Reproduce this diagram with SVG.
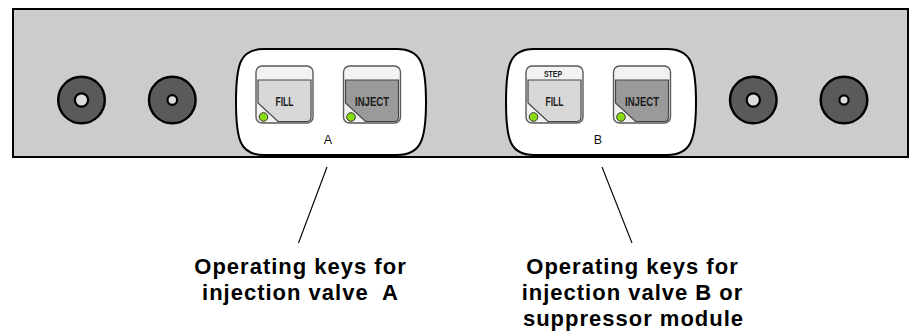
<svg xmlns="http://www.w3.org/2000/svg" xmlns:xlink="http://www.w3.org/1999/xlink" width="912" height="335" viewBox="0 0 912 335">
  <style>
    .panel { fill: #cccccc; stroke: #000; stroke-width: 2; }
    .jack-outer { fill: #5a5a5a; stroke: #000; stroke-width: 2.4; }
    .jack-inner { fill: #dcdcdc; stroke: #000; stroke-width: 2.2; }
    .module { fill: #ffffff; stroke: #000; stroke-width: 2; }
    .key-frame { fill: #f2f2f2; stroke: #5a5a5a; stroke-width: 1.4; }
    .face { stroke: #444; stroke-width: 1.2; }
    .face-light { fill: #d8d8d8; }
    .face-dark { fill: #9a9a9a; }
    .led { fill: #88dd11; stroke: #333; stroke-width: 1; }
    .key-text { font-family: "Liberation Sans", Arial, sans-serif; font-size: 12.5px; font-weight: bold; fill: #1a1a1a; text-anchor: middle; }
    .step-text { font-family: "Liberation Sans", Arial, sans-serif; font-size: 9px; font-weight: bold; fill: #1a1a1a; text-anchor: middle; }
    .module-label { font-family: "Liberation Sans", Arial, sans-serif; font-size: 12.5px; fill: #111; text-anchor: middle; }
    .leader { stroke: #000; stroke-width: 1.1; fill: none; }
    .caption { font-family: "Liberation Sans", Arial, sans-serif; font-size: 22px; font-weight: bold; letter-spacing: 1px; fill: #000; text-anchor: middle; }
  </style>
  <defs>
    <!-- key frame, face outline and status LED shared by all keys -->
    <rect id="keyFrame" class="key-frame" x="0" y="0" width="57" height="57" rx="6"/>
    <path id="keyFace" d="M 2 14 H 55 V 51 Q 55 55.5 50.5 55.5 H 22 L 2 37 Z"/>
    <circle id="keyLed" class="led" cx="7.5" cy="51" r="4.3"/>
    <path id="moduleShape" d="M 264 49 H 397 C 421 49 426 64 426 102 C 426 140 421 155 397 155 H 264 C 240 155 236 140 236 102 C 236 64 240 49 264 49 Z"/>
  </defs>

  <!-- front panel -->
  <g id="panel">
    <rect class="panel" x="13" y="9" width="895" height="148"/>
  </g>

  <!-- jacks -->
  <g id="jack-1">
    <circle class="jack-outer" cx="81.5" cy="100" r="23.3"/>
    <circle class="jack-inner" cx="81.5" cy="100" r="6.6"/>
  </g>
  <g id="jack-2">
    <circle class="jack-outer" cx="172.3" cy="100" r="23.3"/>
    <circle class="jack-inner" cx="172.3" cy="100" r="4.8"/>
  </g>
  <g id="jack-3">
    <circle class="jack-outer" cx="753.3" cy="100" r="23.3"/>
    <circle class="jack-inner" cx="753.3" cy="100" r="6.6"/>
  </g>
  <g id="jack-4">
    <circle class="jack-outer" cx="844" cy="100" r="23.3"/>
    <circle class="jack-inner" cx="844" cy="100" r="4.6"/>
  </g>

  <!-- valve A keys -->
  <g id="module-a">
    <use xlink:href="#moduleShape" class="module"/>
    <g id="key-a-fill" transform="translate(256 66)">
      <use xlink:href="#keyFrame"/>
      <use xlink:href="#keyFace" class="face face-light"/>
      <use xlink:href="#keyLed"/>
      <text class="key-text" x="28.5" y="39.5" textLength="18" lengthAdjust="spacingAndGlyphs">FILL</text>
    </g>
    <g id="key-a-inject" transform="translate(343.5 66)">
      <use xlink:href="#keyFrame"/>
      <use xlink:href="#keyFace" class="face face-dark"/>
      <use xlink:href="#keyLed"/>
      <text class="key-text" x="28.5" y="39.5" textLength="34" lengthAdjust="spacingAndGlyphs">INJECT</text>
    </g>
    <text class="module-label" x="328" y="143.5">A</text>
  </g>

  <!-- valve B / suppressor keys -->
  <g id="module-b" transform="translate(270 0)">
    <use xlink:href="#moduleShape" class="module"/>
    <g id="key-b-fill" transform="translate(256 66)">
      <use xlink:href="#keyFrame"/>
      <use xlink:href="#keyFace" class="face face-light"/>
      <use xlink:href="#keyLed"/>
      <text class="step-text" x="27" y="11" textLength="18" lengthAdjust="spacingAndGlyphs">STEP</text>
      <text class="key-text" x="28.5" y="39.5" textLength="18" lengthAdjust="spacingAndGlyphs">FILL</text>
    </g>
    <g id="key-b-inject" transform="translate(343.5 66)">
      <use xlink:href="#keyFrame"/>
      <use xlink:href="#keyFace" class="face face-dark"/>
      <use xlink:href="#keyLed"/>
      <text class="key-text" x="28.5" y="39.5" textLength="34" lengthAdjust="spacingAndGlyphs">INJECT</text>
    </g>
    <text class="module-label" x="328" y="143.5">B</text>
  </g>

  <!-- leader lines -->
  <g id="connectors">
    <line class="leader" x1="327" y1="167" x2="298.5" y2="243"/>
    <line class="leader" x1="602" y1="167" x2="632" y2="243"/>
  </g>

  <!-- captions -->
  <g id="caption-a">
    <text class="caption" x="300.5" y="274">Operating keys for</text>
    <text class="caption" x="300.5" y="300" xml:space="preserve">injection valve  A</text>
  </g>
  <g id="caption-b">
    <text class="caption" x="632.5" y="274">Operating keys for</text>
    <text class="caption" x="632.5" y="300">injection valve B or</text>
    <text class="caption" x="633.5" y="326">suppressor module</text>
  </g>
</svg>
